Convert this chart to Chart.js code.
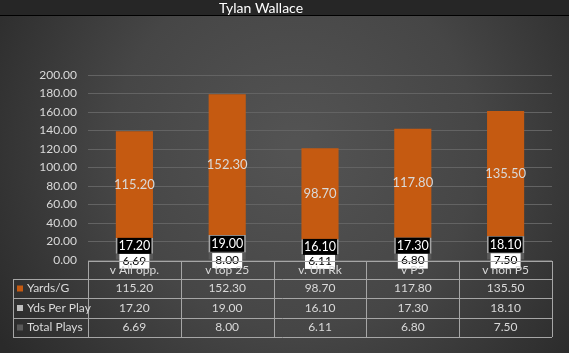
<!DOCTYPE html>
<html>
<head>
<meta charset="utf-8">
<script src="https://cdn.jsdelivr.net/npm/chart.js@4.4.0/dist/chart.umd.min.js"></script>
<style>
  html, body { margin: 0; padding: 0; background: #333; }
  #wrap { position: relative; width: 569px; height: 353px; }
</style>
</head>
<body>
<div id="wrap"><canvas id="chart" width="569" height="353"></canvas></div>
<script>
const chartTitle = 'Tylan Wallace';
const categories = ['v All opp.', 'v top 25', 'v. Un Rk', 'v P5', 'v non P5'];
const yardsPerGame = [115.20, 152.30, 98.70, 117.80, 135.50];
const ydsPerPlay = [17.20, 19.00, 16.10, 17.30, 18.10];
const totalPlays = [6.69, 8.00, 6.11, 6.80, 7.50];
const yMin = 0;
const yMax = 200;
const yStep = 20;

const FONT = 'Lato, "Open Sans", sans-serif';
const colors = {
  yards: '#c55a11',
  perPlay: '#a6a6a6',
  plays: '#595959',
  text: '#d9d9d9',
  grid: '#636363',
  table: '#a6a6a6',
};

// stacked bottom-up: Total Plays, Yds Per Play, Yards/G
const series = [
  { label: 'Total Plays', data: totalPlays, color: colors.plays },
  { label: 'Yds Per Play', data: ydsPerPlay, color: colors.perPlay },
  { label: 'Yards/G', data: yardsPerGame, color: colors.yards },
];

const backdrop = {
  id: 'backdrop',
  beforeDraw(chart) {
    const ctx = chart.ctx;
    const w = chart.width, h = chart.height;
    ctx.save();
    const g = ctx.createRadialGradient(w * 0.52, h * 0.42, 10, w * 0.52, h * 0.42, w * 0.62);
    g.addColorStop(0, '#535353');
    g.addColorStop(0.5, '#464646');
    g.addColorStop(1, '#2a2a2a');
    ctx.fillStyle = g;
    ctx.fillRect(0, 0, w, h);
    ctx.fillStyle = '#262626';
    ctx.fillRect(0, 0, w, 15);
    ctx.fillStyle = '#000';
    ctx.fillRect(0, 15, w, 1);
    ctx.fillStyle = '#ffffff';
    ctx.font = '14px ' + FONT;
    ctx.textAlign = 'center';
    ctx.textBaseline = 'middle';
    ctx.fillText(chartTitle, 261, 8);
    ctx.restore();
  },
};

const labels = {
  id: 'labels',
  afterDatasetsDraw(chart) {
    const ctx = chart.ctx;
    ctx.save();
    ctx.textAlign = 'center';
    ctx.textBaseline = 'middle';
    // Total Plays: white boxes
    chart.getDatasetMeta(0).data.forEach(function (el, i) {
      const cy = (el.y + el.base) / 2 + 4;
      ctx.fillStyle = '#ffffff';
      ctx.fillRect(el.x - 15, cy - 7, 30, 15);
      ctx.fillStyle = '#000000';
      ctx.font = '12px ' + FONT;
      ctx.fillText(totalPlays[i].toFixed(2), el.x, cy);
    });
    // Yds Per Play: black boxes
    chart.getDatasetMeta(1).data.forEach(function (el, i) {
      const cy = (el.y + el.base) / 2;
      ctx.fillStyle = '#000000';
      ctx.fillRect(el.x - 17, cy - 8, 34, 16);
      ctx.fillStyle = '#ffffff';
      ctx.font = '12.5px ' + FONT;
      ctx.fillText(ydsPerPlay[i].toFixed(2), el.x, cy);
    });
    // Yards/G: plain text
    chart.getDatasetMeta(2).data.forEach(function (el, i) {
      const cy = (el.y + el.base) / 2;
      ctx.fillStyle = colors.text;
      ctx.font = '13px ' + FONT;
      ctx.fillText(yardsPerGame[i].toFixed(2), el.x, cy);
    });
    ctx.restore();
  },
};

const dataTable = {
  id: 'dataTable',
  afterDraw(chart) {
    const ctx = chart.ctx;
    const area = chart.chartArea;
    const xs = chart.scales.x;
    const colW = (area.right - area.left) / categories.length;
    const top = area.bottom + 1;
    const rowsY = [top, 279, 298, 318, 337];
    const left = 13;
    ctx.save();
    ctx.strokeStyle = colors.table;
    ctx.lineWidth = 1;
    ctx.beginPath();
    ctx.moveTo(area.left, rowsY[0] + 0.5);
    ctx.lineTo(area.right, rowsY[0] + 0.5);
    for (let r = 1; r < rowsY.length; r++) {
      ctx.moveTo(left, rowsY[r] + 0.5);
      ctx.lineTo(area.right, rowsY[r] + 0.5);
    }
    for (let c = 0; c <= categories.length; c++) {
      const x = Math.round(area.left + c * colW) + 0.5;
      ctx.moveTo(x, rowsY[0]);
      ctx.lineTo(x, rowsY[4]);
    }
    ctx.moveTo(left + 0.5, rowsY[1]);
    ctx.lineTo(left + 0.5, rowsY[4]);
    ctx.stroke();

    ctx.font = '12px ' + FONT;
    ctx.textBaseline = 'middle';
    ctx.fillStyle = colors.text;
    ctx.textAlign = 'center';
    categories.forEach(function (c, i) {
      ctx.fillText(c, xs.getPixelForValue(i), (rowsY[0] + rowsY[1]) / 2);
    });
    const rows = [series[2], series[1], series[0]];
    const swatch = [colors.yards, '#bfbfbf', '#595959'];
    rows.forEach(function (s, r) {
      const cy = (rowsY[r + 1] + rowsY[r + 2]) / 2;
      ctx.fillStyle = swatch[r];
      ctx.fillRect(17, cy - 3, 6, 6);
      ctx.fillStyle = colors.text;
      ctx.textAlign = 'left';
      ctx.fillText(s.label, 27, cy);
      ctx.textAlign = 'center';
      s.data.forEach(function (v, i) {
        ctx.fillText(v.toFixed(2), xs.getPixelForValue(i), cy);
      });
    });
    ctx.restore();
  },
};

new Chart(document.getElementById('chart'), {
  type: 'bar',
  data: {
    labels: categories,
    datasets: series.map(function (s) {
      return { label: s.label, data: s.data, backgroundColor: s.color, borderWidth: 0 };
    }),
  },
  options: {
    responsive: false,
    animation: false,
    events: [],
    layout: { padding: { left: 0, right: 17, top: 75, bottom: 93 } },
    plugins: { legend: { display: false }, tooltip: { enabled: false }, title: { display: false } },
    datasets: { bar: { categoryPercentage: 1, barPercentage: 0.4 } },
    scales: {
      x: { stacked: true, display: false },
      y: {
        stacked: true,
        min: yMin,
        max: yMax,
        afterFit: function (scale) { scale.width = 88; },
        border: { display: false },
        grid: { color: colors.grid, drawTicks: false },
        ticks: {
          stepSize: yStep,
          padding: 11,
          color: colors.text,
          font: { family: FONT, size: 12 },
          callback: function (v) { return Number(v).toFixed(2); },
        },
      },
    },
  },
  plugins: [backdrop, labels, dataTable],
});
</script>
</body>
</html>
